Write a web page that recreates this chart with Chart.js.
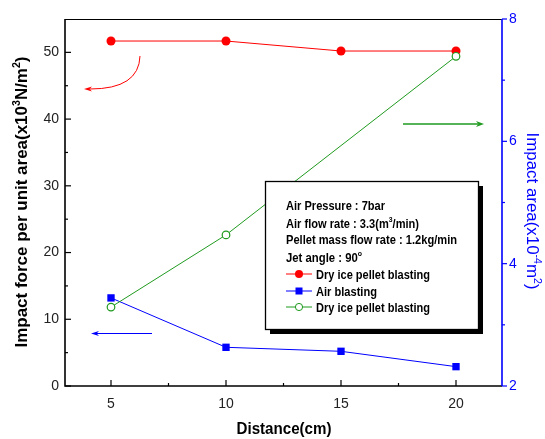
<!DOCTYPE html>
<html><head><meta charset="utf-8">
<script src="https://cdn.jsdelivr.net/npm/chart.js@4/dist/chart.umd.min.js"></script>
<style>html,body{margin:0;padding:0;background:#fff;}#wrap{width:545px;height:439px;}</style>
</head><body><div id="wrap"><canvas id="c" width="545" height="439"></canvas></div>
<script>
// ---- data ----
const distances = [5, 10, 15, 20];
const dryIceForce = [51.7, 51.7, 50.2, 50.2];      // left axis, red
const airBlastForce = [13.2, 5.8, 5.2, 2.9];       // left axis, blue
const dryIceArea = [3.29, 4.47, null, 7.39];        // right axis, green
const xTicks = [5, 10, 15, 20];
const leftTicks = [0, 10, 20, 30, 40, 50];
const rightTicks = [2, 4, 6, 8];
const xMinor = [7.5, 12.5, 17.5];
const leftMinor = [5, 15, 25, 35, 45];
const rightMinor = [3, 5, 7];
const seriesNames = ['Dry ice pellet blasting', 'Air blasting', 'Dry ice pellet blasting'];
const infoLines = [
  [{t:'Air Pressure : 7bar'}],
  [{t:'Air flow rate : 3.3(m'},{t:'3',sup:true},{t:'/min)'}],
  [{t:'Pellet mass flow rate : 1.2kg/min'}],
  [{t:'Jet angle : 90'},{t:'o',sup:true}]
];

const FONT = '"Liberation Sans", Arial, sans-serif';
const RED = '#ff0000', BLUE = '#0000ff', GREEN = '#1f9a1f';

function pts(ys){ const o=[]; distances.forEach((x,i)=>{ if(ys[i]!==null) o.push({x:x,y:ys[i]}); }); return o; }

function drawRich(ctx, parts, x, y, o){
  const s=o.size, w=o.bold?'bold ':'';
  const mainF=w+s+'px '+FONT, supF=w+Math.round(s*0.62)+'px '+FONT;
  let W=0; const ws=[];
  parts.forEach(p=>{ ctx.font=p.sup?supF:mainF; const m=ctx.measureText(p.t).width; ws.push(m); W+=m; });
  ctx.save();
  ctx.translate(x,y); if(o.rot) ctx.rotate(o.rot);
  const sx = o.width ? o.width/W : 1;
  ctx.scale(sx,1);
  ctx.fillStyle=o.color||'#000'; ctx.textBaseline='alphabetic'; ctx.textAlign='left';
  let cx = o.align==='left'?0:-W/2;
  const base = s*0.36;
  parts.forEach((p,i)=>{ ctx.font=p.sup?supF:mainF; ctx.fillText(p.t, cx, p.sup? base - s*0.42 : base); cx+=ws[i]; });
  ctx.restore();
}

function arrowHead(ctx, x, y, dir, len, hw, color){
  ctx.save(); ctx.fillStyle=color; ctx.beginPath();
  ctx.moveTo(x,y); ctx.lineTo(x - dir*len, y-hw); ctx.lineTo(x - dir*len*0.7, y); ctx.lineTo(x - dir*len, y+hw); ctx.closePath(); ctx.fill(); ctx.restore();
}

const deco = {
  id:'deco',
  afterDraw(chart){
    const ctx=chart.ctx, a=chart.chartArea, sx=chart.scales.x, sy=chart.scales.y, sr=chart.scales.y2;
    ctx.save();
    // frame
    ctx.lineWidth=1; ctx.strokeStyle='#000';
    ctx.beginPath(); ctx.moveTo(a.left,a.top+0.5); ctx.lineTo(a.right,a.top+0.5); ctx.stroke();
    ctx.lineWidth=1.6;
    ctx.beginPath(); ctx.moveTo(a.left,a.top); ctx.lineTo(a.left,a.bottom); ctx.lineTo(a.right,a.bottom); ctx.stroke();
    ctx.strokeStyle=BLUE;
    ctx.beginPath(); ctx.moveTo(a.right,a.top); ctx.lineTo(a.right,a.bottom); ctx.stroke();
    // ticks
    ctx.lineWidth=1.2; ctx.strokeStyle='#000';
    leftTicks.forEach(v=>{const p=sy.getPixelForValue(v); ctx.beginPath(); ctx.moveTo(a.left,p); ctx.lineTo(a.left+6,p); ctx.stroke();});
    leftMinor.forEach(v=>{const p=sy.getPixelForValue(v); ctx.beginPath(); ctx.moveTo(a.left,p); ctx.lineTo(a.left+3,p); ctx.stroke();});
    xTicks.forEach(v=>{const p=sx.getPixelForValue(v); ctx.beginPath(); ctx.moveTo(p,a.bottom); ctx.lineTo(p,a.bottom-6); ctx.stroke();});
    xMinor.forEach(v=>{const p=sx.getPixelForValue(v); ctx.beginPath(); ctx.moveTo(p,a.bottom); ctx.lineTo(p,a.bottom-3); ctx.stroke();});
    ctx.strokeStyle=BLUE;
    rightTicks.forEach(v=>{const p=sr.getPixelForValue(v); ctx.beginPath(); ctx.moveTo(a.right,p); ctx.lineTo(a.right+5,p); ctx.stroke();});
    rightMinor.forEach(v=>{const p=sr.getPixelForValue(v); ctx.beginPath(); ctx.moveTo(a.right,p); ctx.lineTo(a.right+3,p); ctx.stroke();});
    // axis titles
    drawRich(ctx,[{t:'Impact force per unit area(x10'},{t:'3',sup:true},{t:'N/m'},{t:'2',sup:true},{t:')'}],21,202,{size:16,bold:true,rot:-Math.PI/2,width:291});
    drawRich(ctx,[{t:'Impact area(x10'},{t:'-4',sup:true},{t:'m'},{t:'2',sup:true},{t:')'}],533,211,{size:16,rot:Math.PI/2,width:157,color:BLUE});
    drawRich(ctx,[{t:'Distance(cm)'}],284,428,{size:16,bold:true,width:95});
    // arrows
    ctx.lineWidth=1;
    ctx.strokeStyle=RED; ctx.beginPath(); ctx.moveTo(140,56); ctx.quadraticCurveTo(139,89,90,89); ctx.stroke();
    arrowHead(ctx,84,89,-1,8,2.5,RED);
    ctx.strokeStyle=BLUE; ctx.beginPath(); ctx.moveTo(152,333.5); ctx.lineTo(96,333.5); ctx.stroke();
    arrowHead(ctx,91,333.5,-1,8,2.5,BLUE);
    ctx.strokeStyle=GREEN; ctx.lineWidth=1.3; ctx.beginPath(); ctx.moveTo(403,124); ctx.lineTo(478,124); ctx.stroke();
    arrowHead(ctx,484,124,1,8,3,GREEN);
    // info box
    const bx=265, by=181, bw=213, bh=148;
    ctx.fillStyle='#000'; ctx.fillRect(bx+5,by+5,bw,bh);
    ctx.fillStyle='#fff'; ctx.fillRect(bx,by,bw,bh);
    ctx.lineWidth=1.3; ctx.strokeStyle='#000'; ctx.strokeRect(bx+0.5,by+0.5,bw,bh);
    const infoW=[99,133,171,76], infoY=[205,223,239,257];
    infoLines.forEach((ln,i)=>drawRich(ctx,ln,286,infoY[i],{size:13,bold:true,align:'left',width:infoW[i]}));
    const legY=[274,291,307], legC=[RED,BLUE,GREEN], legW=[114,61,114];
    legY.forEach((y,i)=>{
      ctx.strokeStyle=legC[i]; ctx.lineWidth=1; ctx.beginPath(); ctx.moveTo(286,y); ctx.lineTo(312,y); ctx.stroke();
      if(i===0){ctx.fillStyle=RED; ctx.beginPath(); ctx.arc(299,y,4,0,Math.PI*2); ctx.fill();}
      if(i===1){ctx.fillStyle=BLUE; ctx.fillRect(295.5,y-3.5,7,7);}
      if(i===2){ctx.fillStyle='#fff'; ctx.strokeStyle=GREEN; ctx.beginPath(); ctx.arc(299,y,3.6,0,Math.PI*2); ctx.fill(); ctx.stroke();}
      drawRich(ctx,[{t:seriesNames[i]}],316,y,{size:13.5,bold:true,align:'left',width:legW[i]});
    });
    ctx.restore();
  }
};

new Chart(document.getElementById('c'),{
  type:'line',
  data:{datasets:[
    {label:seriesNames[0],data:pts(dryIceForce),yAxisID:'y',borderColor:RED,backgroundColor:RED,borderWidth:1,pointStyle:'circle',pointRadius:4.5,pointBorderWidth:0,order:1},
    {label:seriesNames[1],data:pts(airBlastForce),yAxisID:'y',borderColor:BLUE,backgroundColor:BLUE,borderWidth:1,pointStyle:'rect',pointRadius:5.2,pointBorderWidth:0,order:2},
    {label:seriesNames[2],data:pts(dryIceArea),yAxisID:'y2',borderColor:GREEN,backgroundColor:'#fff',borderWidth:1,pointStyle:'circle',pointRadius:3.8,pointBorderWidth:1.2,order:0}
  ]},
  options:{
    responsive:false,animation:false,
    layout:{padding:{top:19,left:0,right:0,bottom:0}},
    plugins:{legend:{display:false},tooltip:{enabled:false}},
    elements:{line:{tension:0}},
    scales:{
      x:{type:'linear',min:3,max:22,
        afterBuildTicks:s=>{s.ticks=xTicks.map(v=>({value:v}));},
        afterFit:s=>{s.height=53;},
        grid:{display:false,drawTicks:false},border:{display:false},
        ticks:{padding:10,color:'#222',font:{family:FONT,size:14}}},
      y:{type:'linear',position:'left',min:0,max:55,
        afterBuildTicks:s=>{s.ticks=leftTicks.map(v=>({value:v}));},
        afterFit:s=>{s.width=65;},
        grid:{display:false,drawTicks:false},border:{display:false},
        ticks:{padding:6,color:'#222',font:{family:FONT,size:14}}},
      y2:{type:'linear',position:'right',min:2,max:8,
        afterBuildTicks:s=>{s.ticks=rightTicks.map(v=>({value:v}));},
        afterFit:s=>{s.width=43;},
        grid:{display:false,drawTicks:false},border:{display:false},
        ticks:{padding:7,color:BLUE,font:{family:FONT,size:14}}}
    }
  },
  plugins:[deco]
});
</script></body></html>
